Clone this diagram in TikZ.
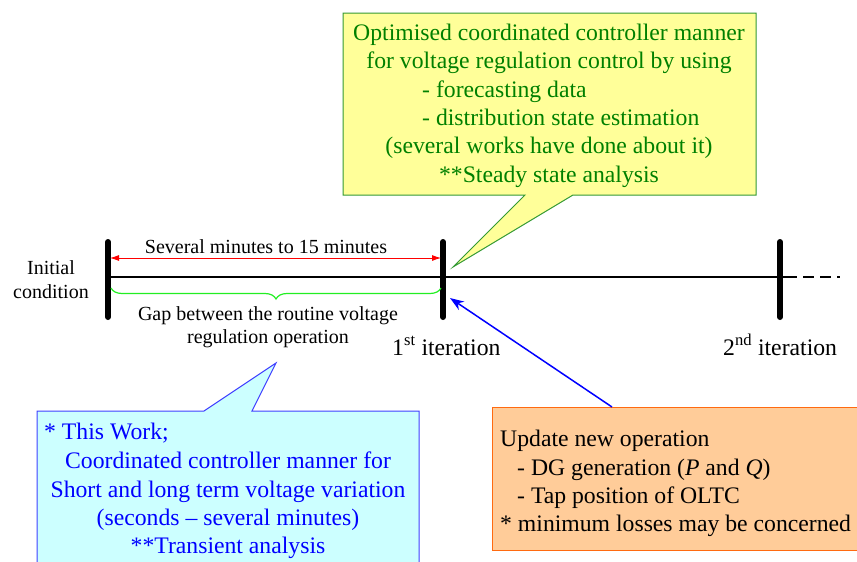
\documentclass[tikz,border=0pt]{standalone}
\usepackage{fontspec}
\setmainfont{Liberation Serif}
\usetikzlibrary{arrows.meta,decorations.pathreplacing}
\definecolor{ylwfill}{HTML}{FFFF99}
\definecolor{ylwdraw}{HTML}{339933}
\definecolor{ylwtext}{HTML}{008000}
\definecolor{cyfill}{HTML}{CCFFFF}
\definecolor{cydraw}{HTML}{4040FF}
\definecolor{cytext}{HTML}{0000FF}
\definecolor{orfill}{HTML}{FFCC99}
\definecolor{ordraw}{HTML}{FF6A10}
\definecolor{brcol}{HTML}{22EE22}
\begin{document}
\begin{tikzpicture}[x=1pt,y=-1pt,
  big/.style={font=\fontsize{23.7}{28}\selectfont, inner sep=0pt},
  small/.style={font=\fontsize{20}{23}\selectfont, inner sep=0pt},
  bar/.style={line width=6pt, line cap=round},
  ytext/.style={big, text=ylwtext},
  ctext/.style={big, text=cytext},
  otext/.style={big, text=black},
  callY/.style={fill=ylwfill, draw=ylwdraw, line width=1pt},
  callC/.style={fill=cyfill, draw=cydraw, line width=1pt},
  callO/.style={fill=orfill, draw=ordraw, line width=1pt}]
\clip (0,0) rectangle (857,562);
% coordinates
\coordinate (b0t) at (108,242); \coordinate (b0b) at (108,317);
\coordinate (b1t) at (443,242); \coordinate (b1b) at (443,317);
\coordinate (b2t) at (780,242); \coordinate (b2b) at (780,317);
\coordinate (tlA) at (108,277); \coordinate (tlB) at (786,277); \coordinate (tlC) at (840,277);
\coordinate (rA) at (110,258); \coordinate (rB) at (441,258);
\coordinate (brA) at (441,288); \coordinate (brB) at (111,288);
\coordinate (ytip) at (453,267);
\coordinate (ctip) at (276,363);
\coordinate (otop) at (612,407); \coordinate (atip) at (450,298);
% callouts
\path[callY] (343,13) -- (756,13) -- (756,195) -- (573,195) -- (ytip) -- (525,195) -- (343,195) -- cycle;
\path[callC] (37,411) -- (204,411) -- (ctip) -- (252,411) -- (419,411) -- (419,580) -- (37,580) -- cycle;
\path[callO] (492,407) rectangle (875,550);
% timeline
\draw[line width=2pt] (tlA) -- (tlB);
\draw[line width=2pt, dash pattern=on 11pt off 6pt] (tlB) -- (tlC);
\draw[bar] (b0t) -- (b0b);
\draw[bar] (b1t) -- (b1b);
\draw[bar] (b2t) -- (b2b);
\draw[red, line width=0.8pt, {Latex[length=9pt,width=6pt]}-{Latex[length=9pt,width=6pt]}] (rA) -- (rB);
\draw[brcol, line width=1.2pt, decorate, decoration={brace, amplitude=11pt}] (brA) -- (brB);
\draw[blue, line width=1.5pt, -{Stealth[length=14pt,width=10pt]}] (otop) -- (atip);
% labels
\node[small, anchor=base] (sev) at (266,253) {Several minutes to 15 minutes};
\node[small, anchor=base] (i1) at (51,274) {Initial};
\node[small, anchor=base] (i2) at (51,298) {condition};
\node[small, anchor=base] (g1) at (268,320) {Gap between the routine voltage};
\node[small, anchor=base] (g2) at (268,343) {regulation operation};
\node[big, anchor=base west] (it1) at (392,355) {1\textsuperscript{st} iteration};
\node[big, anchor=base west] (it2) at (723,355) {2\textsuperscript{nd} iteration};
% yellow text
\node[ytext, anchor=base] (y1) at (549,40) {Optimised coordinated controller manner};
\node[ytext, anchor=base] (y2) at (549,68) {for voltage regulation control by using};
\node[ytext, anchor=base west] (y3) at (422,97) {- forecasting data};
\node[ytext, anchor=base west] (y4) at (422,125) {- distribution state estimation};
\node[ytext, anchor=base] (y5) at (549,153) {(several works have done about it)};
\node[ytext, anchor=base] (y6) at (549,182) {**Steady state analysis};
% cyan text
\node[ctext, anchor=base west] (c1) at (44,439) {* This Work;};
\node[ctext, anchor=base] (c2) at (228,468) {Coordinated controller manner for};
\node[ctext, anchor=base] (c3) at (228,497) {Short and long term voltage variation};
\node[ctext, anchor=base] (c4) at (228,525) {(seconds – several minutes)};
\node[ctext, anchor=base] (c5) at (228,553) {**Transient analysis};
% orange text
\node[otext, anchor=base west] (o1) at (500,446) {Update new operation};
\node[otext, anchor=base west] (o2) at (517,475) {- DG generation (\textit{P} and \textit{Q})};
\node[otext, anchor=base west] (o3) at (517,503) {- Tap position of OLTC};
\node[otext, anchor=base west] (o4) at (500,531) {* minimum losses may be concerned};
\end{tikzpicture}
\end{document}
